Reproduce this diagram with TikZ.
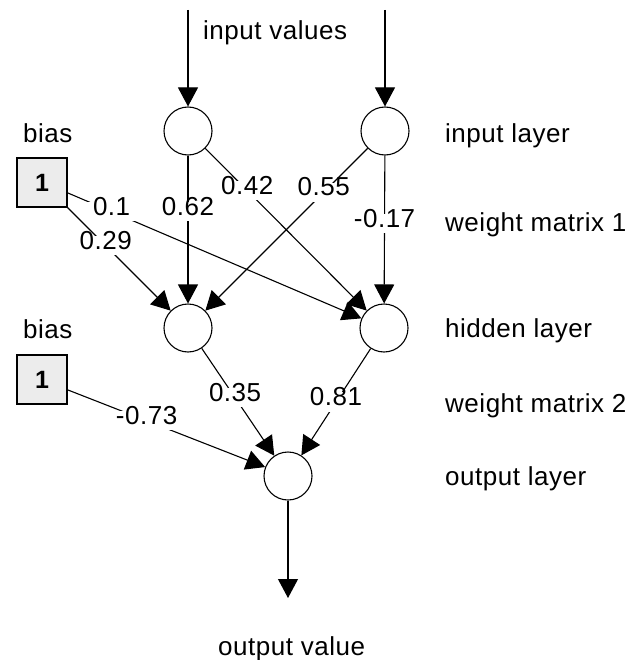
\documentclass[tikz,border=0pt]{standalone}
\usepackage{fontspec}
\setmainfont{Liberation Sans}[LetterSpace=2]
\usetikzlibrary{arrows.meta}
\begin{document}
\begin{tikzpicture}[x=1bp,y=-1bp,
  every node/.style={font=\fontsize{26bp}{30bp}\selectfont},
  neuron/.style={circle,draw,line width=1.1bp,minimum size=48bp,inner sep=0pt},
  biasbox/.style={rectangle,draw,line width=1.1bp,fill=gray!15,minimum width=50bp,
    minimum height=49bp,inner sep=0pt,font=\fontsize{25bp}{30bp}\selectfont\bfseries},
  weight/.style={fill=white,inner sep=6bp,text height=0.72em,text depth=0pt},
  caption/.style={anchor=base west,inner sep=0pt},
  conn/.style={line width=1.1bp,-{Triangle[length=19bp,width=20bp]}}
]
\useasboundingbox (0,0) rectangle (628,660);

% neurons
\node[neuron] (in1) at (188,131) {};
\node[neuron] (in2) at (385,131) {};
\node[neuron] (h1)  at (188,328) {};
\node[neuron] (h2)  at (384,328) {};
\node[neuron] (out) at (288,476) {};

% bias units
\node[biasbox] (b1) at (42,182.5) {1};
\node[biasbox] (b2) at (42,379.5) {1};

% free ends of the input and output arrows
\coordinate (top1) at (188,10);
\coordinate (top2) at (385,10);
\coordinate (bottom) at (288,598);

% captions
\node[caption] (tin)  at (203,40)  {input values};
\node[caption] (tout) at (218,655) {output value};
\node[caption] (bl1)  at (23,142)  {bias};
\node[caption] (bl2)  at (23,338)  {bias};
\node[caption] (l1)   at (445,142) {input layer};
\node[caption] (l2)   at (445,231) {weight matrix 1};
\node[caption] (l3)   at (445,337) {hidden layer};
\node[caption] (l4)   at (445,412) {weight matrix 2};
\node[caption] (l5)   at (445,485) {output layer};

% input arrows
\draw[conn] (top1) -- (in1);
\draw[conn] (top2) -- (in2);

% weight matrix 1
\draw[conn] (in1) -- node[weight,pos=0.38]{0.62} (h1);
\draw[conn] (in1) -- node[weight,pos=0.26]{0.42} (h2);
\draw[conn] (in2) -- node[weight,pos=0.27]{0.55} (h1);
\draw[conn] (in2) -- node[weight,pos=0.46]{-0.17} (h2);
\draw[conn] (b1.-22) -- node[weight,pos=0.15]{0.1} (h2);
\draw[conn] (b1.south east) -- node[weight,pos=0.37]{0.29} (h1);

% weight matrix 2
\draw[conn] (h1) -- node[weight,pos=0.46]{0.35} (out);
\draw[conn] (h2) -- node[weight,pos=0.50]{0.81} (out);
\draw[conn] (b2.-22) -- node[weight,pos=0.40]{-0.73} (out);

% output arrow
\draw[conn] (out) -- (bottom);
\end{tikzpicture}
\end{document}
